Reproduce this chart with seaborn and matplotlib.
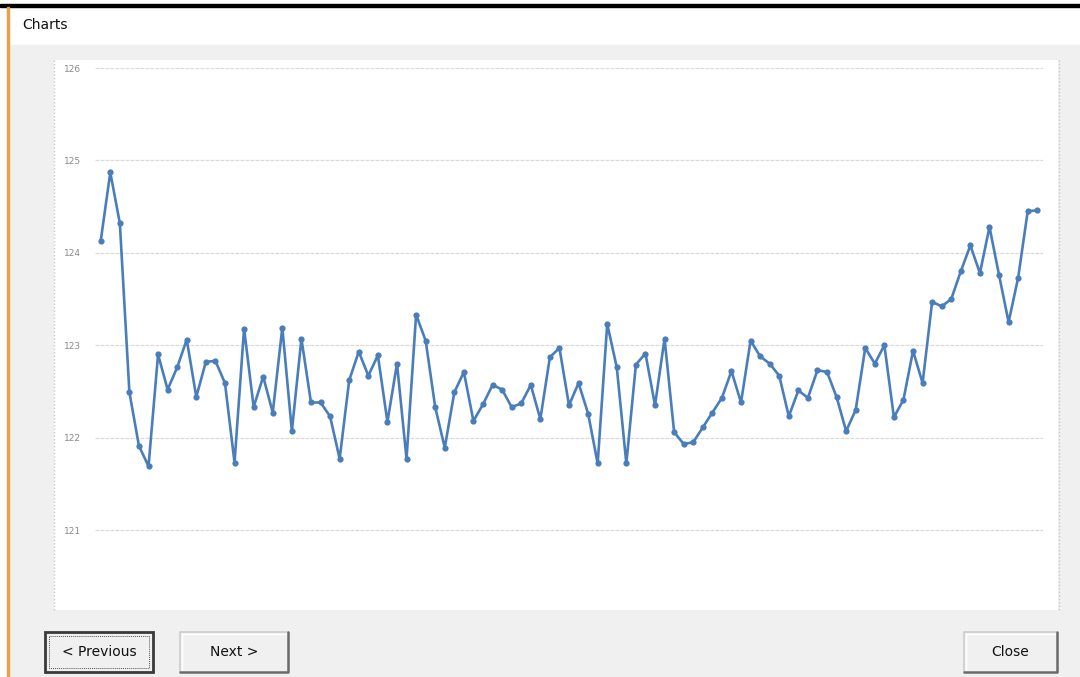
import pandas as pd
import seaborn as sns
import matplotlib.pyplot as plt
from matplotlib.patches import Rectangle

values = [
    124.13, 124.87, 124.32, 122.49, 121.91, 121.69, 122.90, 122.52, 122.76, 123.06,
    122.44, 122.82, 122.83, 122.59, 121.73, 123.18, 122.33, 122.66, 122.27, 123.19,
    122.07, 123.07, 122.38, 122.38, 122.23, 121.77, 122.62, 122.93, 122.67, 122.89,
    122.17, 122.80, 121.77, 123.33, 123.05, 122.33, 121.89, 122.49, 122.71, 122.18,
    122.36, 122.57, 122.52, 122.33, 122.37, 122.57, 122.20, 122.87, 122.97, 122.35,
    122.59, 122.26, 121.72, 123.23, 122.76, 121.72, 122.79, 122.91, 122.35, 123.07,
    122.06, 121.93, 121.95, 122.11, 122.27, 122.43, 122.72, 122.38, 123.05, 122.88,
    122.80, 122.67, 122.23, 122.51, 122.43, 122.73, 122.71, 122.44, 122.07, 122.30,
    122.97, 122.80, 123.00, 122.22, 122.41, 122.94, 122.59, 123.47, 123.42, 123.50,
    123.80, 124.08, 123.78, 124.28, 123.76, 123.25, 123.73, 124.45, 124.46,
]
y_ticks = [121, 122, 123, 124, 125, 126]
window_title = "Charts"
button_labels = ["< Previous", "Next >", "Close"]

data = pd.DataFrame({"idx": range(len(values)), "value": values})

W, H = 1080, 677
sns.set_style("white")
plt.rcParams['font.family'] = ['DejaVu Sans']

fig = plt.figure(figsize=(W / 100, H / 100), dpi=100)

# Fond de la fenêtre, en coordonnées pixels
bg = fig.add_axes([0, 0, 1, 1])
bg.set_xlim(0, W)
bg.set_ylim(H, 0)
bg.axis("off")
bg.add_patch(Rectangle((0, 0), W, H, color="white", zorder=0))
bg.add_patch(Rectangle((9, 45), W - 9, H - 45, color="#f0f0f0", zorder=1))
bg.add_patch(Rectangle((0, 4), W, 3, color="black", zorder=2))
bg.add_patch(Rectangle((7, 7), 2, H - 7, color="#e8a04a", zorder=2))
bg.text(22, 25, window_title, fontsize=10, va="center", ha="left", color="#111111", zorder=3)

# Zone du graphique (bords gauche/droit pointillés)
bg.add_patch(Rectangle((54, 60), 1004, 550, facecolor="white", edgecolor="none", zorder=2))
for xe in (54, 1058.5):
    bg.plot([xe, xe], [60, 610], color="#c8c8c8", linestyle=(0, (1, 1.5)), linewidth=1.0, zorder=3)

# Boutons
def button(x0, x1, label, focused=False):
    y0, y1 = 632, 672
    bg.add_patch(Rectangle((x0, y0), x1 - x0, y1 - y0, facecolor="#f0f0f0",
                           edgecolor="none", zorder=3))
    if focused:
        bg.add_patch(Rectangle((x0, y0), x1 - x0, y1 - y0, fill=False, edgecolor="#3a3a3a",
                               linewidth=2.0, zorder=4))
        bg.add_patch(Rectangle((x0 + 4, y0 + 4), x1 - x0 - 8, y1 - y0 - 8, fill=False,
                               edgecolor="#555555", linestyle=(0, (1, 1)), linewidth=0.7, zorder=4))
    else:
        bg.plot([x0, x0, x1], [y1, y0, y0], color="#cdcdcd", linewidth=1.2, zorder=4)
        bg.plot([x0 + 1.5, x0 + 1.5, x1 - 1.5], [y1 - 1.5, y0 + 1.5, y0 + 1.5],
                color="white", linewidth=1.0, zorder=4)
        bg.plot([x0, x1, x1], [y1, y1, y0], color="#6a6a6a", linewidth=1.8, zorder=4)
    bg.text((x0 + x1) / 2, (y0 + y1) / 2, label, fontsize=10, ha="center", va="center",
            color="#111111", zorder=5)

button(45, 153, button_labels[0], focused=True)
button(180, 288, button_labels[1])
button(964, 1057, button_labels[2])

# Axe du graphique : 126 à y=68 px, 92.4 px par unité
left, right, top, bottom = 95, 1043, 68, 600
ax = fig.add_axes([left / W, 1 - bottom / H, (right - left) / W, (bottom - top) / H])
ax.patch.set_alpha(0)
sns.lineplot(data=data, x="idx", y="value", ax=ax, color="#4a7ebb", linewidth=1.9,
             marker="o", markersize=4.5, markeredgewidth=0)

ax.set_ylim(126 - (bottom - top) / 92.4, 126)
ax.set_xlim(-0.6, len(values) - 1 + 0.6)
ax.set_yticks(y_ticks)
ax.set_yticklabels([str(t) for t in y_ticks], fontsize=6.5, color="#8a8a8a")
ax.tick_params(axis="y", length=0, pad=10)
ax.set_xticks([])
ax.grid(axis="y", color="#dadada", linewidth=0.9, linestyle=(0, (3, 1)))
ax.set_axisbelow(True)
ax.set_xlabel("")
ax.set_ylabel("")
for s in ax.spines.values():
    s.set_visible(False)

fig.savefig("out.png", dpi=100)
